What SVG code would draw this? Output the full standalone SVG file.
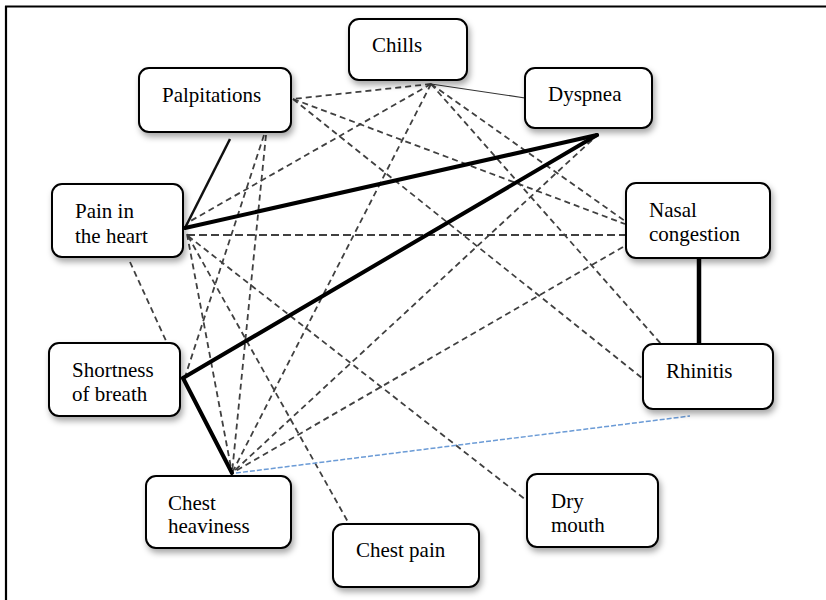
<svg xmlns="http://www.w3.org/2000/svg" width="826" height="600" viewBox="0 0 826 600">
<defs>
<filter id="sh" x="-20%" y="-20%" width="150%" height="160%">
<feDropShadow dx="2" dy="4" stdDeviation="3" flood-color="#000" flood-opacity="0.35"/>
</filter>
</defs>
<style>
.box{fill:#fff;stroke:#000;stroke-width:2;filter:url(#sh)}
.lbl{font-family:"Liberation Serif","Times New Roman",serif;font-size:21px;fill:#000}
.thick{stroke:#000;stroke-width:4;fill:none;stroke-linecap:round}
.med{stroke:#111;stroke-width:2.5;fill:none}
.thin{stroke:#333;stroke-width:1.2;fill:none}
.dash{stroke:#404040;stroke-width:1.8;fill:none;stroke-dasharray:6 4}
.blue{stroke:#6b9bd6;stroke-width:1.5;fill:none;stroke-dasharray:5 2}
</style>
<rect x="0" y="0" width="826" height="600" fill="#fff"/>
<line x1="5" y1="6.5" x2="826" y2="6.5" stroke="#000" stroke-width="2.2"/>
<line x1="6" y1="6" x2="6" y2="600" stroke="#000" stroke-width="2.2"/>
<g id="connectors">
<line class="dash" x1="431" y1="84" x2="293" y2="99"/>
<line class="dash" x1="431" y1="84" x2="187" y2="223"/>
<line class="dash" x1="431" y1="84" x2="232" y2="473"/>
<line class="dash" x1="431" y1="84" x2="625" y2="221"/>
<line class="dash" x1="431" y1="84" x2="662" y2="345"/>
<line class="dash" x1="293" y1="99" x2="625" y2="224"/>
<line class="dash" x1="293" y1="99" x2="642" y2="378"/>
<line class="dash" x1="266" y1="135" x2="232" y2="473"/>
<line class="dash" x1="264" y1="135" x2="185" y2="377"/>
<line class="dash" x1="187" y1="235" x2="626" y2="235" style="stroke-dasharray:8 4"/>
<line class="dash" x1="187" y1="234" x2="232" y2="473"/>
<line class="dash" x1="188" y1="236" x2="348" y2="522"/>
<line class="dash" x1="188" y1="236" x2="526" y2="500"/>
<line class="dash" x1="130" y1="262" x2="167" y2="343"/>
<line class="dash" x1="592" y1="140" x2="232" y2="473"/>
<line class="dash" x1="623" y1="247" x2="232" y2="473"/>
<line class="blue" x1="236" y1="473" x2="690" y2="416"/>
<line class="thin" x1="431" y1="84" x2="525" y2="98"/>
<line class="med" x1="185" y1="228" x2="230" y2="139"/>
<line class="thick" x1="185" y1="228" x2="597" y2="135"/>
<line class="thick" x1="183" y1="378" x2="597" y2="135"/>
<line class="thick" x1="183" y1="378" x2="232" y2="473"/>
<line class="thick" x1="699" y1="258" x2="699" y2="344" style="stroke-width:4.5;stroke-linecap:butt"/>
</g>
<g id="chills"><rect class="box" x="349" y="19" width="118" height="61" rx="10"/><text class="lbl" x="372" y="52">Chills</text></g>
<g id="palpitations"><rect class="box" x="139" y="68" width="152" height="64" rx="10"/><text class="lbl" x="162" y="102">Palpitations</text></g>
<g id="dyspnea"><rect class="box" x="525" y="68" width="127" height="60" rx="10"/><text class="lbl" x="548" y="101">Dyspnea</text></g>
<g id="pain-in-the-heart"><rect class="box" x="52" y="184" width="131" height="73" rx="10"/><text class="lbl" x="75" y="218">Pain in</text><text class="lbl" x="75" y="243">the heart</text></g>
<g id="nasal-congestion"><rect class="box" x="626" y="183" width="144" height="75" rx="10"/><text class="lbl" x="649" y="217">Nasal</text><text class="lbl" x="649" y="241">congestion</text></g>
<g id="shortness-of-breath"><rect class="box" x="49" y="343" width="131" height="73" rx="10"/><text class="lbl" x="72" y="377">Shortness</text><text class="lbl" x="72" y="401">of breath</text></g>
<g id="rhinitis"><rect class="box" x="643" y="344" width="130" height="65" rx="10"/><text class="lbl" x="666" y="378">Rhinitis</text></g>
<g id="chest-heaviness"><rect class="box" x="146" y="476" width="145" height="72" rx="10"/><text class="lbl" x="168" y="510">Chest</text><text class="lbl" x="168" y="533">heaviness</text></g>
<g id="chest-pain"><rect class="box" x="333" y="524" width="146" height="63" rx="10"/><text class="lbl" x="356" y="557">Chest pain</text></g>
<g id="dry-mouth"><rect class="box" x="527" y="474" width="131" height="73" rx="10"/><text class="lbl" x="551" y="508">Dry</text><text class="lbl" x="551" y="532">mouth</text></g>
</svg>
